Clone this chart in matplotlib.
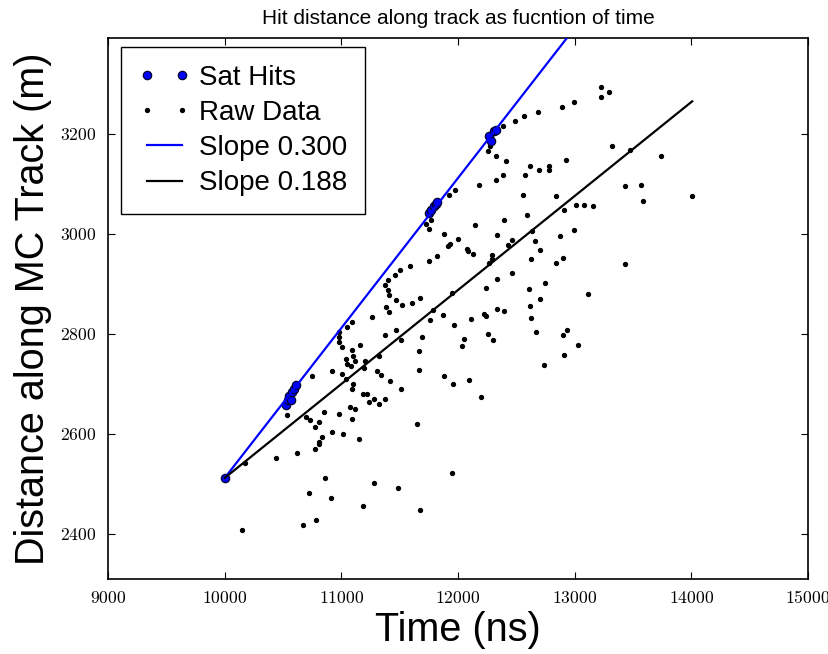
import matplotlib
matplotlib.use("Agg")
import matplotlib.pyplot as plt
from matplotlib.ticker import FixedLocator, FuncFormatter
import numpy as np

# Saturated hits (time in ns, distance in m)
sat_t = [10000, 10529, 10540, 10552, 10565, 10580, 10598, 10612,
         11747, 11770, 11790, 11811, 11824,
         12269, 12284, 12312, 12324]
sat_d = [2512, 2658, 2668, 2675, 2667, 2683, 2690, 2697,
         3041, 3048, 3055, 3060, 3063,
         3196, 3186, 3205, 3207]

# All raw hits (time in ns, distance in m)
raw_t = [10000,
         13223, 13291, 13225, 12994, 12889, 12689, 12566, 12489, 12384, 12272,
         12258, 13322, 13474, 13737, 12329, 12409, 12926, 12615, 12780, 12695,
         12780, 12384, 12575, 12324, 12178, 11975, 13428, 13568, 13588, 14007,
         12560, 12840, 13014, 13082, 13157, 12906, 12592, 12395, 12149, 11924,
         11770, 12004, 12331, 12076, 12084, 12127, 12294, 12290, 12264, 12427,
         12466, 12635, 12663, 12700, 12876, 12994, 12623, 12843, 12900, 13433,
         12337, 12463, 12241, 12606, 12743, 13114, 12706, 12620, 12337, 12397,
         12219, 12241, 11967, 12110, 12623, 12937, 12903, 12260, 12298, 12048,
         12038, 12666, 13028, 12909, 12740, 12098, 12198, 11954, 11950, 11724,
         11747, 11884, 11928, 11911, 11824, 11748, 11586, 11504, 11463, 11400,
         11370, 11397, 11409, 11468, 11523, 11605, 11671, 11379, 11408, 11265,
         11095, 11051, 10980, 10980, 10982, 11005, 11164, 11089, 11100, 11038,
         11048, 11085, 11113, 11205, 11194, 10922, 10745, 11005, 11307, 11337,
         11419, 11100, 11370, 11470, 11513, 11325, 11665, 11667, 11690, 11763,
         11783, 11873, 11883, 11040, 10177, 10443, 10618, 10531, 10700, 10734,
         10771, 10808, 10851, 10837, 10805, 10805, 10777, 10922, 10980, 11016,
         11076, 11117, 11093, 11147, 11093, 11185, 11224, 11239, 11284, 11325,
         11373, 11513, 11647, 11950, 10862, 11282, 11485, 10725, 10911, 11185,
         11678, 10668, 10783, 10146]
raw_d = [2512,
         3293, 3283, 3274, 3264, 3254, 3244, 3235, 3225, 3215, 3176,
         3166, 3176, 3167, 3156, 3156, 3146, 3147, 3136, 3136, 3127,
         3127, 3117, 3117, 3107, 3097, 3087, 3096, 3097, 3066, 3075,
         3077, 3076, 3057, 3058, 3055, 3047, 3037, 3027, 3018, 3077,
         3027, 2989, 2997, 2969, 2966, 2960, 2958, 2950, 2941, 2978,
         2987, 3006, 2986, 2968, 2996, 3007, 2949, 2941, 2951, 2939,
         2909, 2921, 2891, 2889, 2901, 2880, 2870, 2856, 2850, 2846,
         2839, 2836, 2818, 2829, 2831, 2807, 2797, 2799, 2787, 2790,
         2775, 2804, 2777, 2757, 2737, 2707, 2673, 2699, 2881, 3019,
         3009, 2999, 2979, 2976, 2956, 2946, 2936, 2927, 2917, 2907,
         2897, 2888, 2878, 2868, 2858, 2862, 2872, 2853, 2843, 2833,
         2823, 2813, 2803, 2794, 2784, 2774, 2777, 2768, 2755, 2749,
         2739, 2735, 2745, 2745, 2732, 2726, 2716, 2719, 2725, 2718,
         2705, 2700, 2797, 2807, 2788, 2755, 2765, 2728, 2794, 2827,
         2848, 2838, 2715, 2709, 2541, 2551, 2561, 2638, 2634, 2627,
         2614, 2624, 2643, 2594, 2584, 2580, 2570, 2604, 2639, 2600,
         2653, 2649, 2629, 2589, 2689, 2679, 2679, 2663, 2670, 2659,
         2669, 2689, 2619, 2521, 2511, 2501, 2491, 2481, 2472, 2456,
         2447, 2417, 2427, 2407]

# Fitted slopes (m/ns) through the first hit
slope_sat = 0.300
slope_raw = 0.188
t0, d0 = 10000, 2512

x_ticks = [9000, 10000, 11000, 12000, 13000, 14000, 15000]
y_ticks = [2400, 2600, 2800, 3000, 3200]

plt.rcParams["mathtext.fontset"] = "cm"
plt.rcParams["font.family"] = ["Liberation Sans", "DejaVu Sans"]

fig = plt.figure(figsize=(8.29, 6.54), dpi=100)
ax = fig.add_axes([0.1303, 0.1147, 0.8444, 0.8272])

t_fit = np.array([t0, max(raw_t)])

ax.plot(sat_t, sat_d, "o", color="#0000ff", markeredgecolor="#000030",
        markeredgewidth=0.9, markersize=6, label="Sat Hits", zorder=4)
ax.plot(raw_t, raw_d, "o", color="black", markersize=2.8, label="Raw Data",
        zorder=3)
ax.plot(t_fit, d0 + slope_sat * (t_fit - t0), "-", color="#0000ff", lw=1.6,
        label=f"Slope {slope_sat:.3f}", zorder=5)
ax.plot(t_fit, d0 + slope_raw * (t_fit - t0), "-", color="black", lw=1.6,
        label=f"Slope {slope_raw:.3f}", zorder=5)

ax.set_xlim(9000, 15000)
ax.set_ylim(2310, 3392)
ax.xaxis.set_major_locator(FixedLocator(x_ticks))
ax.yaxis.set_major_locator(FixedLocator(y_ticks))
fmt = FuncFormatter(lambda v, p: r"$%d$" % int(round(v)))
ax.xaxis.set_major_formatter(fmt)
ax.yaxis.set_major_formatter(fmt)
ax.tick_params(direction="in", length=5, width=0.8, top=True, right=True,
               labelsize=12.7, pad=8)
for s in ax.spines.values():
    s.set_linewidth(1.2)

ax.set_title("Hit distance along track as fucntion of time", fontsize=15,
             pad=10)
ax.set_xlabel("Time (ns)", fontsize=28.5, labelpad=3)
ax.set_ylabel("Distance along MC Track (m)", fontsize=28.5, labelpad=6)

leg = ax.legend(loc="upper left", bbox_to_anchor=(0.0186, 0.9834),
                borderaxespad=0, numpoints=2, fontsize=20, fancybox=False,
                framealpha=1, edgecolor="black", handlelength=1.86,
                handletextpad=0.3, labelspacing=0.33, borderpad=0.64)
leg.get_frame().set_linewidth(1.0)

fig.savefig("out.png", dpi=100)
